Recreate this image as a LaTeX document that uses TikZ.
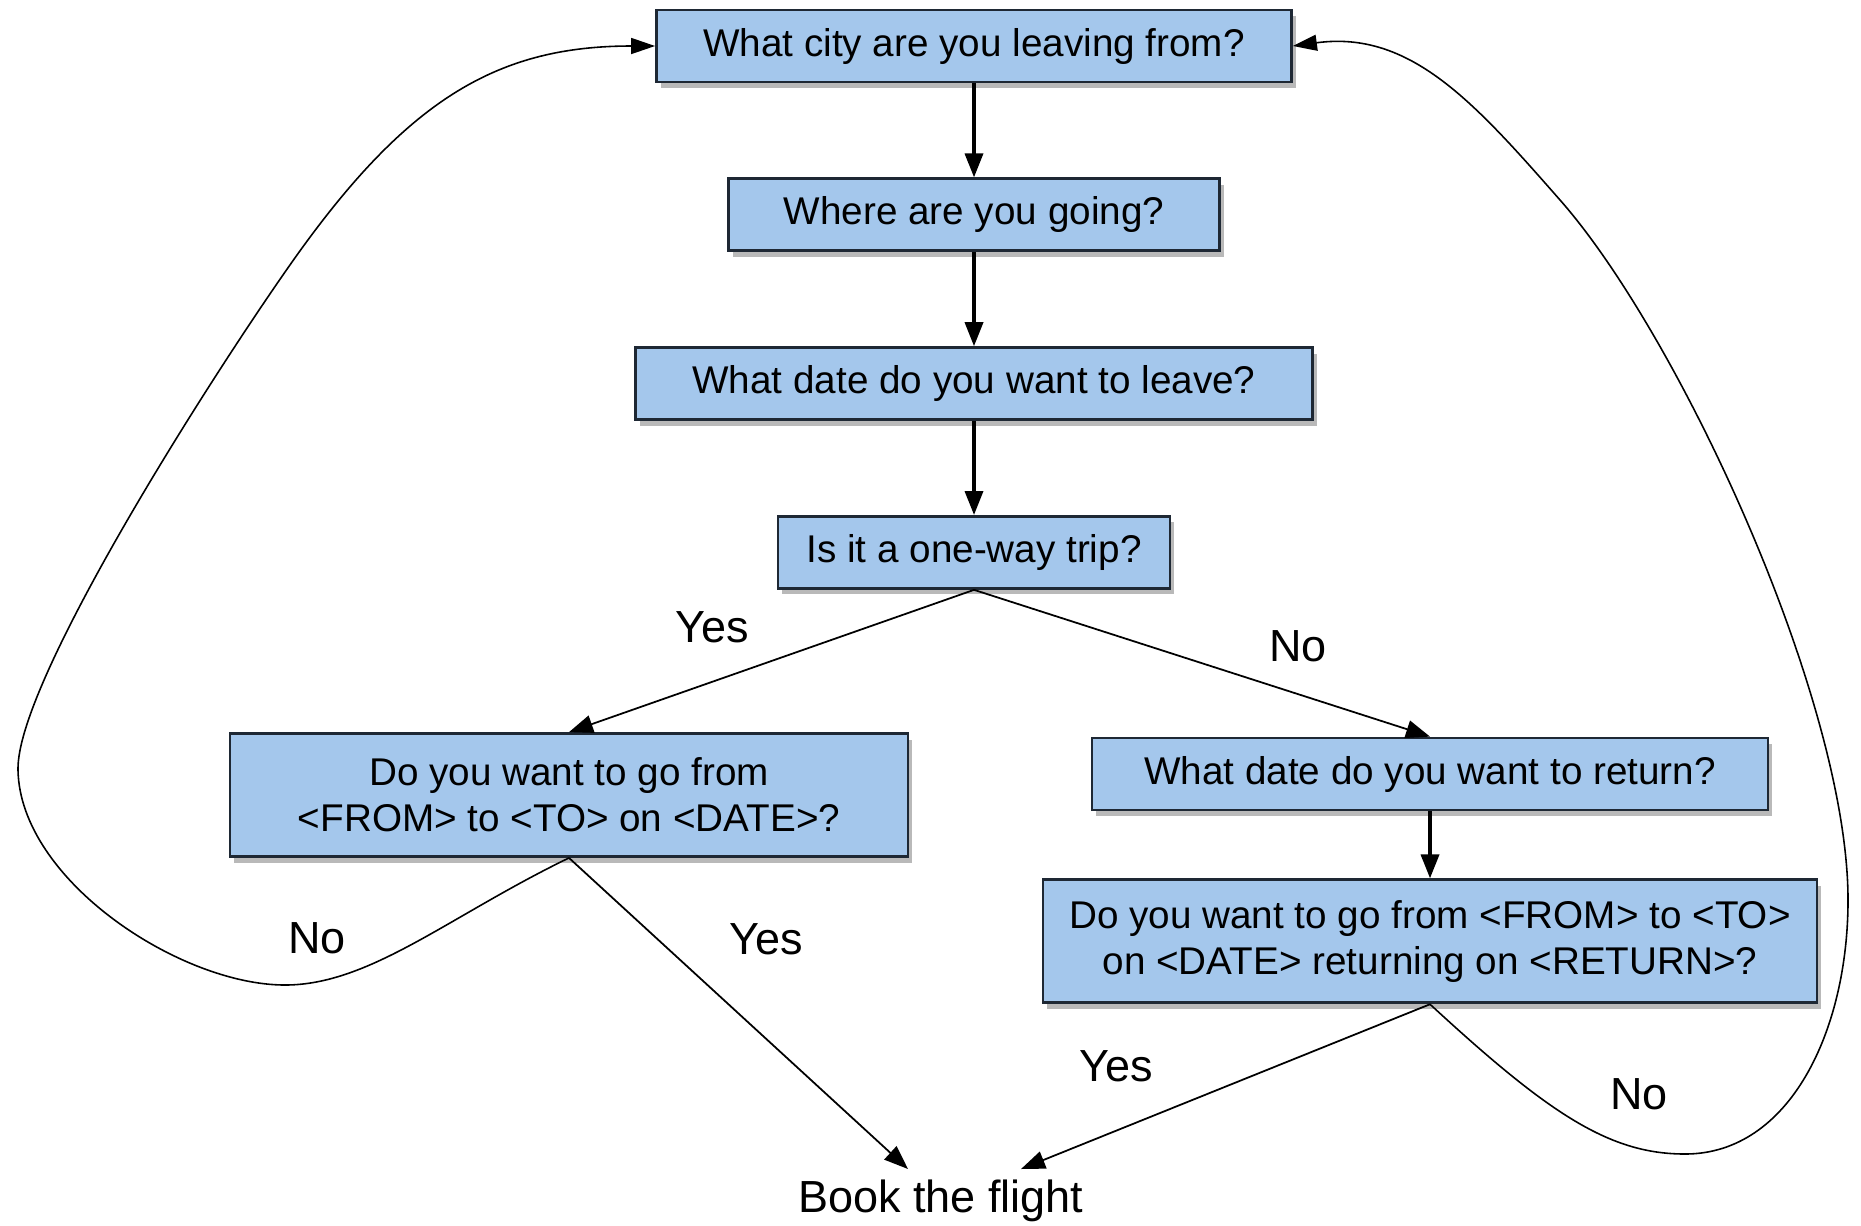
\documentclass[tikz,border=0pt]{standalone}
\usepackage{fontspec}
\setmainfont{Liberation Sans}
\usetikzlibrary{positioning,shadows,arrows.meta}
\definecolor{boxblue}{RGB}{164,199,236}
\definecolor{boxline}{RGB}{30,40,52}

\begin{document}
\begin{tikzpicture}[x=0.1mm,y=-0.1mm,
	node distance=9.4mm,
	qbox/.style={rectangle,draw=boxline,line width=0.8pt,fill=boxblue,
		minimum height=7.2mm,align=center,font=\fontsize{11}{13}\selectfont,
		drop shadow={shadow xshift=0.4mm,shadow yshift=-0.6mm,opacity=0.55}},
	lbl/.style={font=\fontsize{12.8}{15}\selectfont},
	flow/.style={-{Triangle[length=2.4mm,width=1.8mm]},line width=1pt},
	thinflow/.style={-{Triangle[length=2.4mm,width=1.8mm]},line width=0.5pt},
	backflow/.style={-{Triangle[length=2.4mm,width=1.6mm]},line width=0.45pt}]
\useasboundingbox (0,0) rectangle (1861,1225);

\node[qbox,minimum width=63.5mm] (city) at (974,46) {What city are you leaving from?};
\node[qbox,minimum width=49.1mm,below=of city] (going) {Where are you going?};
\node[qbox,minimum width=67.7mm,below=of going] (leave) {What date do you want to leave?};
\node[qbox,minimum width=39.2mm,below=of leave] (oneway) {Is it a one-way trip?};
\node[qbox,minimum width=67.8mm,minimum height=12.3mm] (oneconf) at (569,795)
	{Do you want to go from\\<FROM> to <TO> on <DATE>?};
\node[qbox,minimum width=67.6mm] (ret) at (1430,774) {What date do you want to return?};
\node[qbox,minimum width=77.4mm,minimum height=12.3mm,below=6.7mm of ret] (retconf)
	{Do you want to go from <FROM> to <TO>\\on <DATE> returning on <RETURN>?};
\node[lbl] (book) at (941,1201) {Book the flight};
\coordinate (bookL) at (908,1169);
\coordinate (bookR) at (1021,1169);

% branch labels
\node[lbl] (yes1) at (712,627) {Yes};
\node[lbl] (no1) at (1298,646) {No};
\node[lbl] (no2) at (317,938) {No};
\node[lbl] (yes2) at (766,939) {Yes};
\node[lbl] (yes3) at (1116,1066) {Yes};
\node[lbl] (no3) at (1639,1094) {No};

\draw[flow] (city) -- (going);
\draw[flow] (going) -- (leave);
\draw[flow] (leave) -- (oneway);
\draw[thinflow] (oneway.south) -- (oneconf.north);
\draw[thinflow] (oneway.south) -- (ret.north);
\draw[flow] (ret) -- (retconf);
\draw[thinflow] (oneconf.south) -- (bookL);
\draw[thinflow] (retconf.south) -- (bookR);

% back to the start
\draw[backflow] (oneconf.south) .. controls (449,916) and (370,985) .. (285,985)
	.. controls (180,985) and (20,880) .. (18,770)
	.. controls (16,680) and (220,363) .. (297,255)
	.. controls (410,97) and (500,46) .. (city.west);
\draw[backflow] (retconf.south) .. controls (1550,1115) and (1610,1154) .. (1685,1154)
	.. controls (1790,1154) and (1848,1030) .. (1848,900)
	.. controls (1848,700) and (1679,335) .. (1560,200)
	.. controls (1474,102) and (1410,30) .. (city.east);
\end{tikzpicture}
\end{document}
